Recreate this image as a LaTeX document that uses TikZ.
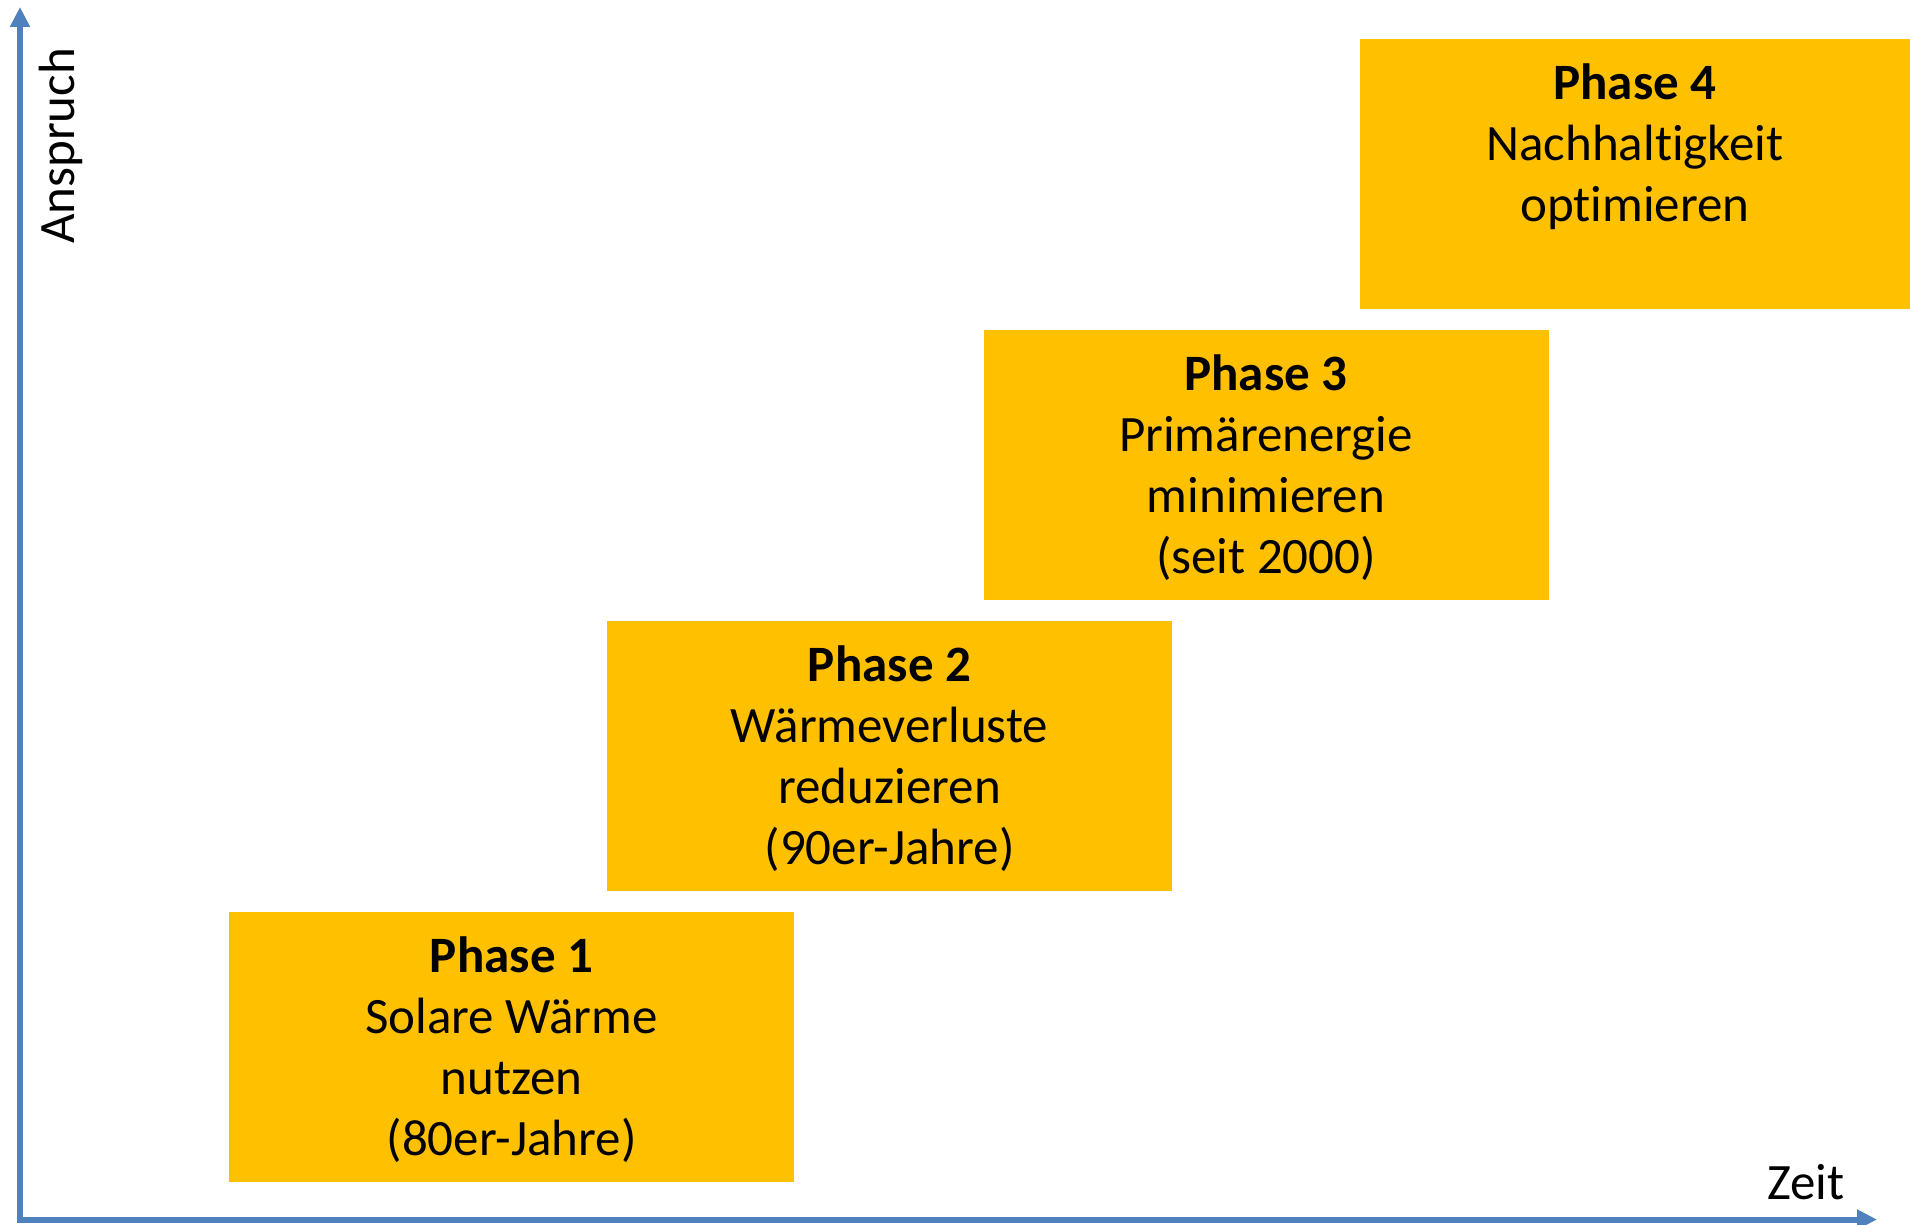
\documentclass[tikz,border=0pt]{standalone}
\usepackage{fontspec}
\setmainfont{Carlito}[Ligatures={NoCommon,NoRare}, Contextuals={NoAlternate}]
\usetikzlibrary{arrows.meta}
\definecolor{phaseyellow}{HTML}{FFC000}
\definecolor{axisblue}{HTML}{4F81BD}
\tikzset{
  phasebox/.style={fill=phaseyellow, draw=none, minimum width=565pt, minimum height=270pt, inner sep=0pt, outer sep=0pt},
  phasetext/.style={anchor=north, inner sep=0pt, align=center, font=\fontsize{51}{61}\selectfont},
  axislabel/.style={inner sep=0pt, font=\fontsize{51}{61}\selectfont},
  axisline/.style={draw=axisblue, line width=6pt, line join=miter,
    {Triangle[length=20pt,width=19pt]}-{Triangle[length=20pt,width=19pt]}}
}
\begin{document}
\begin{tikzpicture}[x=1pt,y=-1pt]
\useasboundingbox (0,0) rectangle (1910,1225);
% axes
\coordinate (ytop) at (20,7);
\coordinate (origin) at (20,1219.5);
\coordinate (xend) at (1877,1219.5);
\draw[axisline] (ytop) -- (origin) -- (xend);
\node[axislabel, rotate=90] (anspruch) at (61,146) {Anspruch};
\node[axislabel] (zeit) at (1806,1182) {Zeit};
% phase boxes
\node[phasebox] (p1) at (511.5,1047) {};
\node[phasebox] (p2) at (889.5,755.5) {};
\node[phasebox] (p3) at (1266,464.5) {};
\node[phasebox, minimum width=550pt] (p4) at (1635,174) {};
% texts
\node[phasetext] (t1) at ([yshift=-25pt]p1.north) {\textbf{Phase 1}\\Solare Wärme\\nutzen\\(80er-Jahre)};
\node[phasetext] (t2) at ([yshift=-25pt]p2.north) {\textbf{Phase 2}\\Wärmeverluste\\reduzieren\\(90er-Jahre)};
\node[phasetext] (t3) at ([yshift=-25pt]p3.north) {\textbf{Phase 3}\\Primärenergie\\minimieren\\(seit 2000)};
\node[phasetext] (t4) at ([yshift=-25pt]p4.north) {\textbf{Phase 4}\\Nachhaltigkeit\\optimieren};
\end{tikzpicture}
\end{document}
